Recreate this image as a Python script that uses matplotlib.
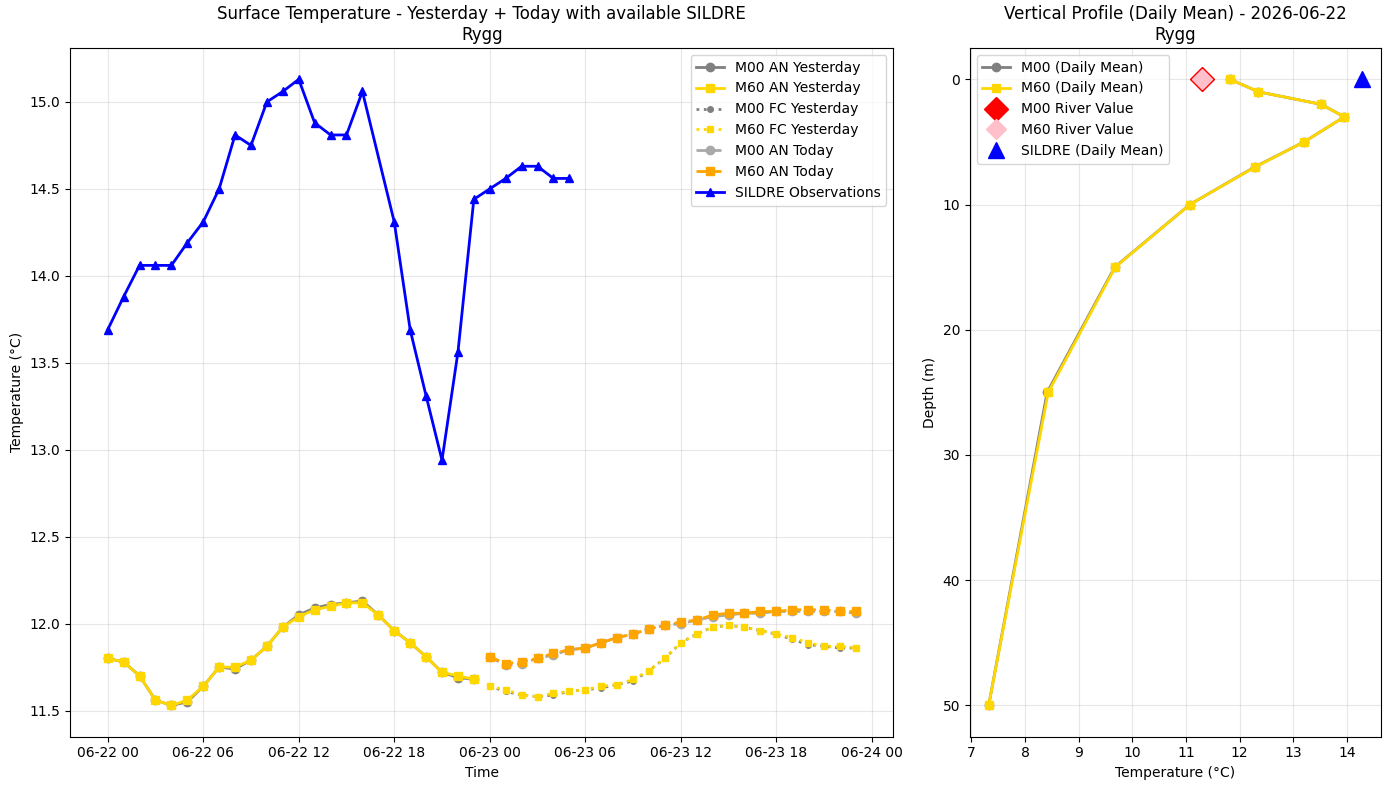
import matplotlib
matplotlib.use("Agg")
import matplotlib.pyplot as plt
import matplotlib.dates as mdates
import numpy as np
import pandas as pd

# ---------------- data ----------------
yesterday_hours = pd.date_range("2026-06-22 00:00", periods=24, freq="h")
today_hours = pd.date_range("2026-06-23 00:00", periods=24, freq="h")

m60_an_yesterday = [11.80, 11.78, 11.70, 11.56, 11.53, 11.56, 11.64, 11.75, 11.75, 11.79,
                    11.87, 11.98, 12.04, 12.08, 12.10, 12.12, 12.12, 12.05, 11.96, 11.89,
                    11.81, 11.72, 11.70, 11.68]
m00_an_yesterday = [11.80, 11.78, 11.70, 11.56, 11.53, 11.55, 11.64, 11.75, 11.74, 11.79,
                    11.87, 11.98, 12.05, 12.09, 12.11, 12.12, 12.13, 12.05, 11.96, 11.89,
                    11.81, 11.72, 11.69, 11.68]

m60_fc_yesterday = [11.64, 11.62, 11.59, 11.58, 11.60, 11.61, 11.62, 11.64, 11.65, 11.68,
                    11.73, 11.80, 11.89, 11.94, 11.98, 11.99, 11.98, 11.96, 11.94, 11.92,
                    11.89, 11.87, 11.87, 11.86]
m00_fc_yesterday = [11.64, 11.61, 11.59, 11.58, 11.59, 11.61, 11.62, 11.63, 11.65, 11.67,
                    11.73, 11.80, 11.89, 11.94, 11.98, 11.99, 11.98, 11.96, 11.94, 11.91,
                    11.88, 11.87, 11.86, 11.86]

m60_an_today = [11.81, 11.77, 11.78, 11.80, 11.83, 11.85, 11.86, 11.89, 11.92, 11.94,
                11.97, 11.99, 12.01, 12.02, 12.05, 12.06, 12.06, 12.07, 12.07, 12.08,
                12.08, 12.08, 12.07, 12.07]
m00_an_today = [11.81, 11.76, 11.77, 11.80, 11.82, 11.85, 11.86, 11.89, 11.92, 11.94,
                11.97, 11.99, 12.00, 12.02, 12.04, 12.05, 12.06, 12.06, 12.07, 12.07,
                12.07, 12.07, 12.07, 12.06]

sildre_hours = [0, 1, 2, 3, 4, 5, 6, 7, 8, 9, 10, 11, 12, 13, 14, 15, 16,
                18, 19, 20, 21, 22, 23, 24, 25, 26, 27, 28, 29]
sildre_values = [13.69, 13.88, 14.06, 14.06, 14.06, 14.19, 14.31, 14.50, 14.81, 14.75,
                 15.00, 15.06, 15.13, 14.88, 14.81, 14.81, 15.06,
                 14.31, 13.69, 13.31, 12.94, 13.56, 14.44, 14.50, 14.56, 14.63, 14.63,
                 14.56, 14.56]
sildre_times = pd.Timestamp("2026-06-22 00:00") + pd.to_timedelta(sildre_hours, unit="h")

depths = [0, 1, 2, 3, 5, 7, 10, 15, 25, 50]
m00_profile = [11.82, 12.35, 13.52, 13.95, 13.20, 12.28, 11.07, 9.67, 8.41, 7.32]
m60_profile = [11.82, 12.35, 13.52, 13.95, 13.20, 12.29, 11.07, 9.68, 8.43, 7.32]
m00_river = 11.30
m60_river = 11.30
sildre_daily_mean = 14.28

# ---------------- plot ----------------
fig = plt.figure(figsize=(13.89, 7.90), dpi=100)
ax1 = fig.add_axes([0.05061, 0.06747, 0.59251, 0.87177])
ax2 = fig.add_axes([0.69834, 0.06747, 0.29568, 0.87177])

ax1.plot(yesterday_hours, m00_an_yesterday, color="gray", linestyle="-", marker="o",
         linewidth=2, markersize=6, label="M00 AN Yesterday")
ax1.plot(yesterday_hours, m60_an_yesterday, color="gold", linestyle="-", marker="s",
         linewidth=2, markersize=5.5, label="M60 AN Yesterday")
ax1.plot(today_hours, m00_fc_yesterday, color="gray", linestyle=":", marker="o",
         linewidth=2, markersize=4, label="M00 FC Yesterday")
ax1.plot(today_hours, m60_fc_yesterday, color="gold", linestyle=":", marker="s",
         linewidth=2, markersize=4, label="M60 FC Yesterday")
ax1.plot(today_hours, m00_an_today, color="darkgray", linestyle="--", marker="o",
         linewidth=2, markersize=6, label="M00 AN Today")
ax1.plot(today_hours, m60_an_today, color="orange", linestyle="--", marker="s",
         linewidth=2, markersize=5.5, label="M60 AN Today")
ax1.plot(sildre_times, sildre_values, color="blue", linestyle="-", marker="^",
         linewidth=2, markersize=5.5, label="SILDRE Observations")

ax1.set_title("Surface Temperature - Yesterday + Today with available SILDRE\nRygg")
ax1.set_xlabel("Time")
ax1.set_ylabel("Temperature (°C)")
ax1.grid(True, alpha=0.3)
ax1.legend(loc="upper right")
ax1.xaxis.set_major_locator(mdates.HourLocator(byhour=[0, 6, 12, 18]))
ax1.xaxis.set_major_formatter(mdates.DateFormatter("%m-%d %H"))

ax2.plot(m00_profile, depths, color="gray", marker="o", linewidth=2, markersize=6,
         label="M00 (Daily Mean)")
ax2.plot(m60_profile, depths, color="gold", marker="s", linewidth=2, markersize=6,
         label="M60 (Daily Mean)")
ax2.plot([m00_river], [depths[0]], linestyle="none", marker="D", color="red",
         markersize=12.5, label="M00 River Value")
ax2.plot([m60_river], [depths[0]], linestyle="none", marker="D", color="pink",
         markersize=10.5, label="M60 River Value")
ax2.plot([sildre_daily_mean], [depths[0]], linestyle="none", marker="^", color="blue",
         markersize=11, label="SILDRE (Daily Mean)")
ax2.invert_yaxis()
ax2.set_title("Vertical Profile (Daily Mean) - 2026-06-22\nRygg")
ax2.set_xlabel("Temperature (°C)")
ax2.set_ylabel("Depth (m)")
ax2.grid(True, alpha=0.3)
ax2.legend(loc="upper left")

fig.savefig("out.png", dpi=100)
